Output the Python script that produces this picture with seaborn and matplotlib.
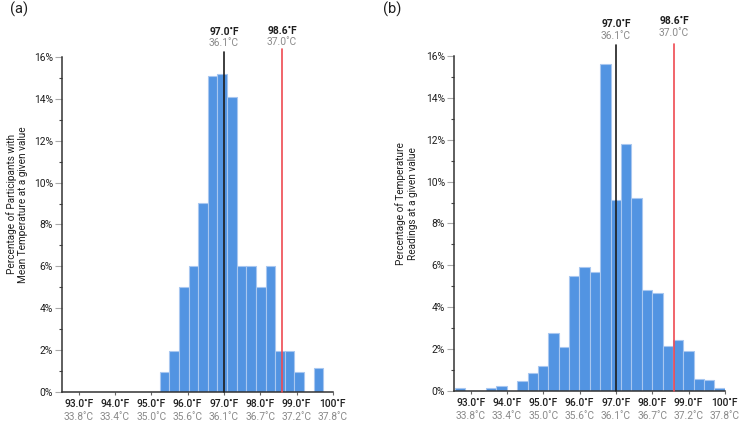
import numpy as np
import pandas as pd
import matplotlib
matplotlib.use("Agg")
import matplotlib.pyplot as plt
import seaborn as sns
from matplotlib.ticker import MultipleLocator

sns.set_theme(style="white")
plt.rcParams['font.family'] = ['Roboto', 'DejaVu Sans']

# (a) mean temperature per participant, 17 equal bins
a_start = 95.228
a_width = 0.2654
a_pct = [0.95, 1.97, 5.0, 6.01, 9.03, 15.1, 15.17, 14.1, 6.01, 6.0,
         5.0, 6.0, 1.97, 1.97, 0.95, 0.0, 1.13]

# (b) all temperature readings, 26 equal bins
b_start = 92.566
b_width = 0.2859
b_pct = [0.14, 0.0, 0.0, 0.14, 0.24, 0.0, 0.48, 0.86, 1.18, 2.77,
         2.11, 5.47, 5.91, 5.66, 15.6, 9.11, 11.81, 9.21, 4.83, 4.69,
         2.17, 2.45, 1.92, 0.58, 0.53, 0.13]

tick_f = [93, 94, 95, 96, 97, 98, 99, 100]
tick_f_labels = ['93.0˚F', '94.0˚F', '95.0˚F', '96.0˚F', '97.0˚F', '98.0˚F', '99.0˚F', '100˚F']
tick_c_labels = ['33.8˚C', '33.4˚C', '35.0˚C', '35.6˚C', '36.1˚C', '36.7˚C', '37.2˚C', '37.8˚C']

ref_f = [97.0, 98.6]
ref_f_labels = ['97.0˚F', '98.6˚F']
ref_c_labels = ['36.1˚C', '37.0˚C']

BAR = '#5294e2'
EDGE = '#a8c7f0'
REF_COLORS = ['#1c1c1c', '#ef4a52']
GRAY = '#8a8a8a'
TXT = '#1e1e1e'
FS = 7.4


def draw(ax, start, width, pct, ylabel, line_top, txt_y):
    edges = [start + width * i for i in range(len(pct) + 1)]
    df = pd.DataFrame({'temp': [e + width / 2 for e in edges[:-1]], 'pct': pct})
    sns.histplot(data=df, x='temp', weights='pct', bins=edges, color=BAR, edgecolor=EDGE,
                 linewidth=0.8, alpha=1, ax=ax)
    ax.set_xlim(92.54, 100.0)
    ax.set_ylim(0, 16)

    # reference lines, they poke out above the axes
    for i, x in enumerate(ref_f):
        ax.plot([x, x], [0, line_top[i]], color=REF_COLORS[i], lw=1.2, clip_on=False, zorder=5)
        ax.text(x, txt_y[i][0], ref_f_labels[i], ha='center', va='center',
                fontsize=FS, fontweight='bold', color=TXT)
        ax.text(x, txt_y[i][1], ref_c_labels[i], ha='center', va='center',
                fontsize=FS, color=GRAY)

    ax.yaxis.set_minor_locator(MultipleLocator(1))
    ax.set_yticks(range(0, 17, 2))
    ax.set_yticklabels([f'{v}%' for v in range(0, 17, 2)])
    ax.tick_params(axis='y', which='major', length=5, width=0.8, color='#aaaaaa',
                   pad=1.5, labelsize=FS, labelcolor=TXT, left=True)
    ax.tick_params(axis='y', which='minor', length=2.5, width=0.8, color='#444444', left=True)

    ax.set_xticks(tick_f)
    ax.set_xticklabels([])
    ax.tick_params(axis='x', which='major', length=2.5, width=0.8, color='#666666', bottom=True)
    for x, fl, cl in zip(tick_f, tick_f_labels, tick_c_labels):
        ax.annotate(fl, xy=(x, 0), xycoords=('data', 'axes fraction'), xytext=(0, -8.5),
                    textcoords='offset points', ha='center', va='center',
                    fontsize=FS, color=TXT, fontweight='medium')
        ax.annotate(cl, xy=(x, 0), xycoords=('data', 'axes fraction'), xytext=(0, -18.2),
                    textcoords='offset points', ha='center', va='center',
                    fontsize=FS, color=GRAY)

    for s in ['top', 'right']:
        ax.spines[s].set_visible(False)
    for s in ['left', 'bottom']:
        ax.spines[s].set_color('#333333')
        ax.spines[s].set_linewidth(1.1)

    ax.set_xlabel('')
    ax.set_ylabel(ylabel, fontsize=7.2, color=TXT, linespacing=1.2)


fig = plt.figure(figsize=(7.4, 4.22), dpi=100)
ax1 = fig.add_axes([0.0838, 0.0711, 0.366, 0.794])
ax2 = fig.add_axes([0.6135, 0.0735, 0.366, 0.794])

draw(ax1, a_start, a_width, a_pct,
     'Percentage of Participants with\nMean Temperature at a given value',
     [16.25, 16.37], [(17.19, 16.67), (17.24, 16.71)])
draw(ax2, b_start, b_width, b_pct,
     'Percentage of Temperature\nReadings at a given value',
     [16.51, 16.56], [(17.51, 16.95), (17.67, 17.11)])

ax1.yaxis.set_label_coords(-0.125, 0.56)
ax2.yaxis.set_label_coords(-0.133, 0.56)

fig.text(0.013, 0.979, '(a)', fontsize=10.5, va='center', ha='left', color=TXT)
fig.text(0.517, 0.979, '(b)', fontsize=10.5, va='center', ha='left', color=TXT)

fig.savefig('out.png', dpi=100)
